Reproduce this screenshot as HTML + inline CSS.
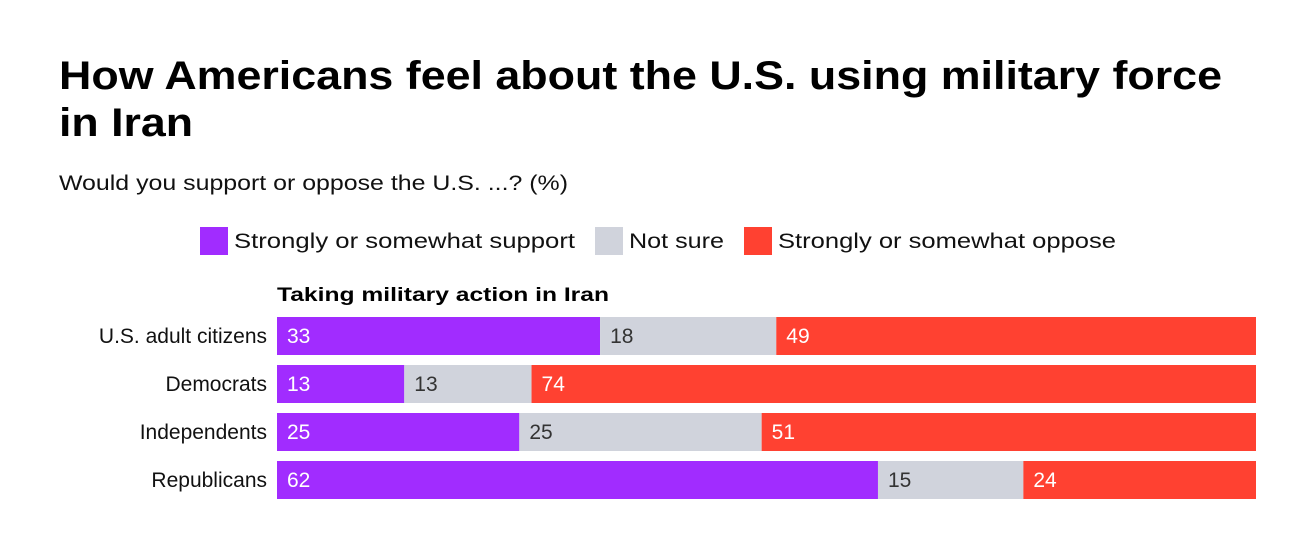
<!DOCTYPE html>
<html><head><meta charset="utf-8"><style>
html,body{margin:0;padding:0;background:#fff;}
svg{display:block;font-family:"Liberation Sans",Arial,sans-serif;}
</style></head><body>
<svg id="chart" width="1302" height="538" viewBox="0 0 1302 538">
<text x="59" y="89" font-size="40" font-weight="bold" fill="#000" textLength="1163" lengthAdjust="spacingAndGlyphs">How Americans feel about the U.S. using military force</text>
<text x="59" y="136" font-size="40" font-weight="bold" fill="#000" textLength="134" lengthAdjust="spacingAndGlyphs">in Iran</text>
<text x="59" y="190" font-size="21" fill="#111" textLength="509" lengthAdjust="spacingAndGlyphs">Would you support or oppose the U.S. ...? (%)</text>
<g>
<rect x="200" y="227" width="28" height="28" fill="#a12cff"/>
<text x="234" y="248" font-size="21" fill="#111" textLength="341" lengthAdjust="spacingAndGlyphs">Strongly or somewhat support</text>
<rect x="595" y="227" width="28" height="28" fill="#d0d3dc"/>
<text x="629" y="248" font-size="21" fill="#111" textLength="95" lengthAdjust="spacingAndGlyphs">Not sure</text>
<rect x="744" y="227" width="28" height="28" fill="#ff4131"/>
<text x="778" y="248" font-size="21" fill="#111" textLength="338" lengthAdjust="spacingAndGlyphs">Strongly or somewhat oppose</text>
</g>
<text x="277" y="301" font-size="19" font-weight="bold" fill="#000" textLength="332" lengthAdjust="spacingAndGlyphs">Taking military action in Iran</text>
<g id="bars"></g>
</svg>
<script>
const categories = ["U.S. adult citizens", "Democrats", "Independents", "Republicans"];
const support = [33, 13, 25, 62];
const notSure = [18, 13, 25, 15];
const oppose = [49, 74, 51, 24];

const X0 = 277, W = 979, Y0 = 317, PITCH = 48, BH = 38;
const NS = "http://www.w3.org/2000/svg";
const g = document.getElementById("bars");
function xScale(v, total){ return v / total * W; }
function yScale(i){ return Y0 + i * PITCH; }
const series = [
  {vals: support, color: "#a12cff", text: "#fff", name: "support"},
  {vals: notSure, color: "#d0d3dc", text: "#333", name: "not-sure"},
  {vals: oppose, color: "#ff4131", text: "#fff", name: "oppose"}
];
categories.forEach((c, i) => {
  const y = yScale(i);
  const lab = document.createElementNS(NS, "text");
  
  
  lab.setAttribute("x", X0 - 10); lab.setAttribute("y", y + BH/2 + 7);
  lab.setAttribute("text-anchor", "end"); lab.setAttribute("font-size", "21"); lab.setAttribute("fill", "#111");
  lab.textContent = c; g.appendChild(lab);
  const total = support[i] + notSure[i] + oppose[i];
  let acc = 0;
  series.forEach(s => {
    const v = s.vals[i];
    const x = X0 + xScale(acc, total), w = xScale(v, total);
    const r = document.createElementNS(NS, "rect");
    
    
    r.setAttribute("x", x); r.setAttribute("y", y); r.setAttribute("width", w); r.setAttribute("height", BH);
    r.setAttribute("fill", s.color); g.appendChild(r);
    const t = document.createElementNS(NS, "text");
    
    
    t.setAttribute("x", x + 10); t.setAttribute("y", y + BH/2 + 7);
    t.setAttribute("font-size", "21"); t.setAttribute("fill", s.text);
    t.textContent = v; g.appendChild(t);
    acc += v;
  });
});
</script>
</body></html>
